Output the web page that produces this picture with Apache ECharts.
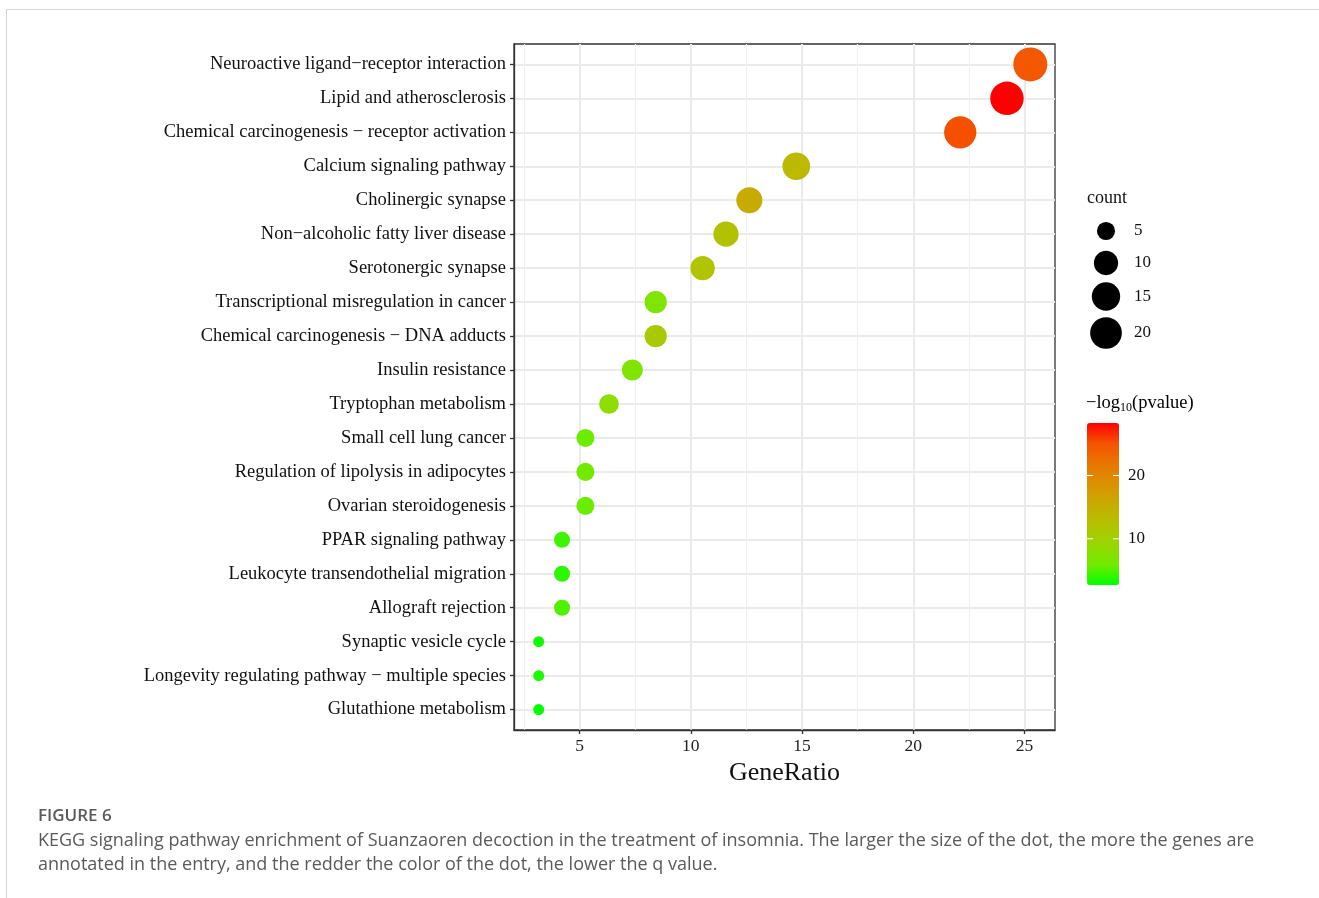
<!DOCTYPE html>
<html>
<head>
<meta charset="utf-8">
<script src="https://cdn.jsdelivr.net/npm/echarts@6/dist/echarts.min.js"></script>
<style>
html,body{margin:0;padding:0;background:#fff;}
#chart{width:1319px;height:898px;}
</style>
</head>
<body>
<div id="chart"></div>
<script>
// ---------- data ----------
const pathways = [
  "Neuroactive ligand\u2212receptor interaction",
  "Lipid and atherosclerosis",
  "Chemical carcinogenesis \u2212 receptor activation",
  "Calcium signaling pathway",
  "Cholinergic synapse",
  "Non\u2212alcoholic fatty liver disease",
  "Serotonergic synapse",
  "Transcriptional misregulation in cancer",
  "Chemical carcinogenesis \u2212 DNA adducts",
  "Insulin resistance",
  "Tryptophan metabolism",
  "Small cell lung cancer",
  "Regulation of lipolysis in adipocytes",
  "Ovarian steroidogenesis",
  "PPAR signaling pathway",
  "Leukocyte transendothelial migration",
  "Allograft rejection",
  "Synaptic vesicle cycle",
  "Longevity regulating pathway \u2212 multiple species",
  "Glutathione metabolism"
];
const geneRatio = [25.26, 24.21, 22.11, 14.74, 12.63, 11.58, 10.53, 8.42, 8.42, 7.37,
                   6.32, 5.26, 5.26, 5.26, 4.21, 4.21, 4.21, 3.16, 3.16, 3.16];
const counts    = [24, 23, 21, 14, 12, 11, 10, 8, 8, 7, 6, 5, 5, 5, 4, 4, 4, 3, 3, 3];
const negLogP   = [24.7, 28.3, 25.2, 13.5, 15.5, 12.3, 12.0, 7.1, 11.1, 7.0,
                   8.3, 5.8, 6.0, 5.8, 4.5, 4.0, 5.0, 3.2, 3.5, 2.7];
const xTicks = [5, 10, 15, 20, 25];
const xMinorTicks = [2.5, 7.5, 12.5, 17.5, 22.5];
const sizeLegendValues = [5, 10, 15, 20];
const colorbarTicks = [10, 20];

// ---------- styling helpers ----------
const SERIF = '"Liberation Serif","DejaVu Serif",serif';
const SANS = '"Open Sans","Noto Sans",sans-serif';
const cMin = Math.min(...counts), cMax = Math.max(...counts);
function sizeOf(c){ return 11 + 23*Math.sqrt((c - cMin)/(cMax - cMin)); }
const pMin = Math.min(...negLogP), pMax = Math.max(...negLogP);
// green -> red interpolated in Lab (as ggplot does)
const gradient = ['#00FF00','#70EB00','#98D700','#B3C200','#C8AB00','#DA9200','#E87600','#F45300','#FF0000'];

const grid = {left:514, top:44, width:541, height:686};
const xRange = {min:2.05, max:26.37};
const cb = {left:1087, top:423, w:32, h:162};

const chart = echarts.init(document.getElementById('chart'), null, {renderer:'canvas'});

const graphics = [];
// page frame lines
graphics.push({type:'line', shape:{x1:6.5,y1:9.5,x2:1319,y2:9.5}, style:{stroke:'#d4d4d4', lineWidth:1}});
graphics.push({type:'line', shape:{x1:6.5,y1:9.5,x2:6.5,y2:898}, style:{stroke:'#d4d4d4', lineWidth:1}});
// size legend
graphics.push({type:'text', x:1087, y:198, style:{text:'count', font:'18px '+SERIF, fill:'#111', textVerticalAlign:'middle'}});
const sizeY = [231, 263, 296.5, 333];
sizeLegendValues.forEach((v,i)=>{
  graphics.push({type:'circle', shape:{cx:1106, cy:sizeY[i], r:sizeOf(v)/2}, style:{fill:'#000'}});
  graphics.push({type:'text', x:1134, y:sizeY[i], style:{text:String(v), font:'17px '+SERIF, fill:'#111', textVerticalAlign:'middle'}});
});
// colorbar title
graphics.push({type:'text', x:1086, y:403, style:{
  text:'{a|\u2212log}{s|10}{a|(pvalue)}', textVerticalAlign:'middle',
  rich:{a:{fontSize:18.5, fontFamily:SERIF, color:'#111', lineHeight:22},
        s:{fontSize:12, fontFamily:SERIF, color:'#111', lineHeight:12, verticalAlign:'bottom'}}
}});
// colorbar ticks + labels
colorbarTicks.forEach(v=>{
  const y = cb.top + (pMax - v)/(pMax - pMin)*cb.h;
  graphics.push({type:'line', shape:{x1:cb.left, y1:y, x2:cb.left+6, y2:y}, style:{stroke:'#fff', lineWidth:1}, z:100});
  graphics.push({type:'line', shape:{x1:cb.left+cb.w-6, y1:y, x2:cb.left+cb.w, y2:y}, style:{stroke:'#fff', lineWidth:1}, z:100});
  graphics.push({type:'text', x:1128, y:y, style:{text:String(v), font:'17px '+SERIF, fill:'#111', textVerticalAlign:'middle'}});
});
// caption
graphics.push({type:'text', x:38, y:816, style:{text:'FIGURE 6', font:'600 17px '+SANS, fill:'#5a5a5a', textVerticalAlign:'middle'}});
graphics.push({type:'text', x:38, y:841, style:{text:'KEGG signaling pathway enrichment of Suanzaoren decoction in the treatment of insomnia. The larger the size of the dot, the more the genes are', font:'18px '+SANS, fill:'#5a5a5a', textVerticalAlign:'middle'}});
graphics.push({type:'text', x:38, y:865, style:{text:'annotated in the entry, and the redder the color of the dot, the lower the q value.', font:'18px '+SANS, fill:'#5a5a5a', textVerticalAlign:'middle'}});

const option = {
  animation:false,
  backgroundColor:'#fff',
  grid:{left:grid.left, top:grid.top, width:grid.width, height:grid.height, show:true, borderColor:'#333', borderWidth:1.3, backgroundColor:'transparent', containLabel:false},
  xAxis:[{
    type:'value', min:xRange.min, max:xRange.max,
    name:'GeneRatio', nameLocation:'middle', nameGap:28,
    nameTextStyle:{fontFamily:SERIF, fontSize:26, color:'#111'},
    axisLine:{show:true, onZero:false, lineStyle:{color:'#333', width:1.3}},
    axisTick:{show:true, length:4, lineStyle:{color:'#333', width:1.3}, customValues:xTicks},
    axisLabel:{customValues:xTicks, fontFamily:SERIF, fontSize:17.5, color:'#222', margin:7},
    splitLine:{show:true, lineStyle:{color:'#EBEBEB', width:2}}
  },{
    type:'value', min:xRange.min, max:xRange.max, gridIndex:0, position:'bottom',
    axisLine:{show:false, onZero:false}, axisLabel:{show:false},
    axisTick:{show:false, customValues:xMinorTicks},
    splitLine:{show:true, lineStyle:{color:'#EFEFEF', width:1.2}}
  }],
  yAxis:{
    type:'value', inverse:true, min:-0.6, max:pathways.length-1+0.6,
    axisLine:{show:true, onZero:false, lineStyle:{color:'#333', width:1.3}},
    axisTick:{show:true, length:4, lineStyle:{color:'#333', width:1.3}, customValues:pathways.map((_,i)=>i)},
    axisLabel:{customValues:pathways.map((_,i)=>i), formatter:v=>pathways[Math.round(v)], fontFamily:SERIF, fontSize:18.5, color:'#111', margin:8},
    splitLine:{show:true, lineStyle:{color:'#EBEBEB', width:2}}
  },
  visualMap:{
    type:'continuous', dimension:3, seriesIndex:0, min:pMin, max:pMax,
    inRange:{color:gradient}, left:cb.left, top:cb.top, itemWidth:cb.w, itemHeight:cb.h,
    padding:0, calculable:false, hoverLink:false, realtime:false
  },
  series:[{
    type:'scatter', xAxisIndex:0, yAxisIndex:0,
    data:pathways.map((p,i)=>[geneRatio[i], i, counts[i], negLogP[i]]),
    symbolSize:v=>sizeOf(v[2]),
    itemStyle:{opacity:1},
    emphasis:{disabled:true},
    z:5
  }],
  graphic:graphics
};
chart.setOption(option);
</script>
</body>
</html>
